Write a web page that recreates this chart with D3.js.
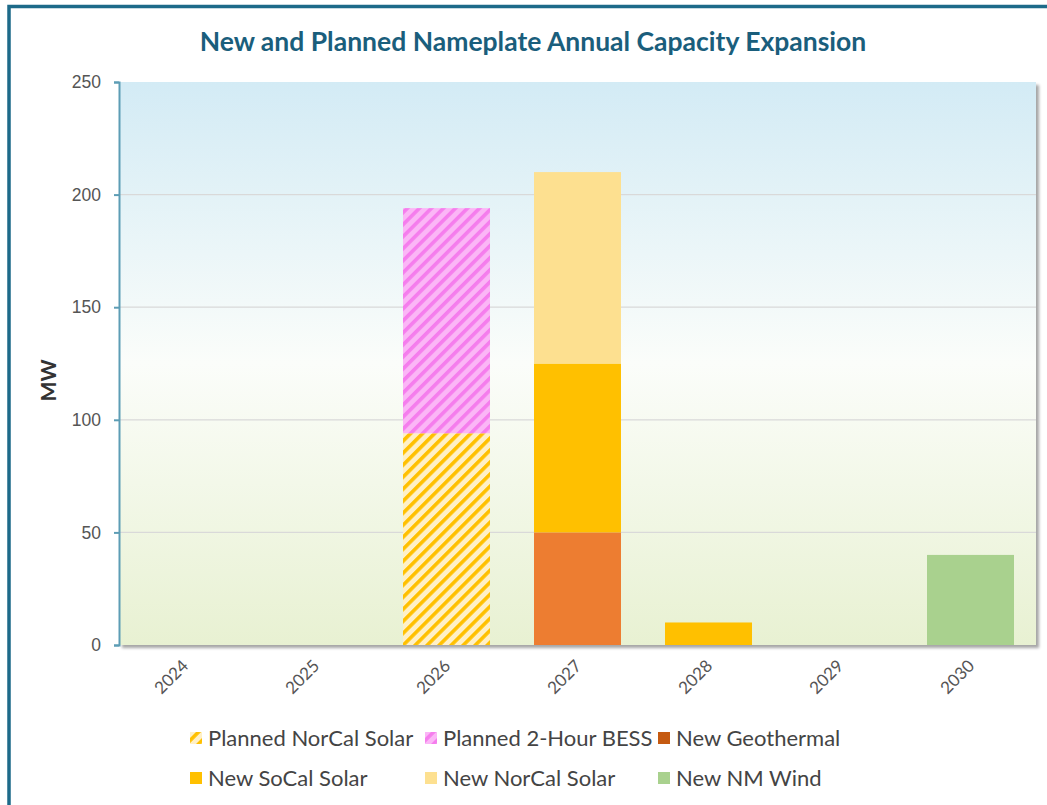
<!DOCTYPE html>
<html>
<head>
<meta charset="utf-8">
<script src="https://cdn.jsdelivr.net/npm/d3@7"></script>
<style>
  body { margin: 0; background: #fff; }
  svg { display: block; font-family: Lato, "Open Sans", sans-serif; }
</style>
</head>
<body>
<div id="chart"></div>
<script>
// data (MW)
const years = ['2024', '2025', '2026', '2027', '2028', '2029', '2030']
const seriesNames = ['Planned NorCal Solar', 'Planned 2-Hour BESS', 'New Geothermal', 'New SoCal Solar', 'New NorCal Solar', 'New NM Wind']
const plannedNorCal = [0, 0, 94, 0, 0, 0, 0]
const plannedBess = [0, 0, 100, 0, 0, 0, 0]
const newGeothermal = [0, 0, 0, 50, 0, 0, 0]
const newSoCal = [0, 0, 0, 75, 10, 0, 0]
const newNorCal = [0, 0, 0, 85, 0, 0, 0]
const newNmWind = [0, 0, 0, 0, 0, 0, 40]
const yTicks = [0, 50, 100, 150, 200, 250]

const width = 1047, height = 805
const margin = { top: 82, right: 11, bottom: 160, left: 119 }

const svg = d3.select('#chart').append('svg')
  .attr('width', width)
  .attr('height', height)

const defs = svg.append('defs')

const grad = defs.append('linearGradient')
  .attr('id', 'bg').attr('x1', 0).attr('x2', 0).attr('y1', 0).attr('y2', 1)
grad.append('stop').attr('offset', '0%').attr('stop-color', '#d3ebf5')
grad.append('stop').attr('offset', '50%').attr('stop-color', '#fbfdfa')
grad.append('stop').attr('offset', '100%').attr('stop-color', '#e8f1d2')

function stripes(id, bg, fg) {
  const p = defs.append('pattern')
    .attr('id', id)
    .attr('patternUnits', 'userSpaceOnUse')
    .attr('width', 8.5).attr('height', 8.5)
    .attr('patternTransform', 'rotate(45)')
  p.append('rect').attr('width', 8.5).attr('height', 8.5).attr('fill', bg)
  p.append('rect').attr('width', 3.6).attr('height', 8.5).attr('fill', fg)
}
stripes('hatchSolar', '#fff0c6', '#ffc000')
stripes('hatchBess', '#fbb6f6', '#f57ded')

const fills = ['url(#hatchSolar)', 'url(#hatchBess)', '#ed7d31', '#ffc000', '#fde090', '#a9d18e']
const legendFills = ['url(#hatchSolar)', 'url(#hatchBess)', '#c55a11', '#ffc000', '#fde090', '#a9d18e']

const shadow = defs.append('filter').attr('id', 'shadow')
  .attr('x', '-2%').attr('y', '-2%').attr('width', '106%').attr('height', '106%')
shadow.append('feDropShadow')
  .attr('dx', 3).attr('dy', 3).attr('stdDeviation', 1.5)
  .attr('flood-color', '#000').attr('flood-opacity', 0.35)

// outer frame
svg.append('rect')
  .attr('x', 9).attr('y', 6.5)
  .attr('width', width + 20).attr('height', height + 20)
  .attr('fill', 'none')
  .attr('stroke', '#1d6a89')
  .attr('stroke-width', 3.5)

const x = d3.scaleBand()
  .domain(years)
  .range([margin.left, width - margin.right])
  .paddingInner(0.336)
  .paddingOuter(0.168)

const y = d3.scaleLinear()
  .domain([0, 250])
  .range([height - margin.bottom, margin.top])

const plotW = width - margin.right - margin.left
const plotH = y(0) - y(250)

svg.append('rect')
  .attr('x', margin.left).attr('y', margin.top)
  .attr('width', plotW).attr('height', plotH)
  .attr('fill', 'url(#bg)')
  .attr('filter', 'url(#shadow)')

svg.append('g')
  .selectAll('line')
  .data(yTicks.filter(d => d > 0 && d < 250))
  .join('line')
  .attr('x1', margin.left).attr('x2', margin.left + plotW)
  .attr('y1', d => y(d)).attr('y2', d => y(d))
  .attr('stroke', '#d9d9d9').attr('stroke-width', 1.2)

const table = years.map((yr, i) => ({
  year: yr,
  'Planned NorCal Solar': plannedNorCal[i],
  'Planned 2-Hour BESS': plannedBess[i],
  'New Geothermal': newGeothermal[i],
  'New SoCal Solar': newSoCal[i],
  'New NorCal Solar': newNorCal[i],
  'New NM Wind': newNmWind[i]
}))

const stack = d3.stack().keys(seriesNames)(table)

svg.append('g')
  .selectAll('g')
  .data(stack)
  .join('g')
  .attr('fill', (d, i) => fills[i])
  .selectAll('rect')
  .data(d => d.filter(s => s[1] > s[0]))
  .join('rect')
  .attr('x', d => x(d.data.year))
  .attr('width', x.bandwidth())
  .attr('y', d => y(d[1]))
  .attr('height', d => y(d[0]) - y(d[1]))

// y axis
const yAxis = svg.append('g')
  .attr('transform', `translate(${margin.left},0)`)
  .call(d3.axisLeft(y).tickValues(yTicks).tickSize(5).tickPadding(13))
yAxis.select('.domain').attr('stroke', '#5d9db5').attr('stroke-width', 2)
yAxis.selectAll('.tick line').attr('stroke', '#5d9db5').attr('stroke-width', 2)
yAxis.selectAll('.tick text')
  .attr('fill', '#555')
  .style('font-size', '17.5px')

// x labels
svg.append('g')
  .selectAll('text')
  .data(years)
  .join('text')
  .attr('transform', d => `translate(${x(d) + x.bandwidth() / 2 + 5},${y(0) + 22}) rotate(-45)`)
  .attr('text-anchor', 'end')
  .attr('fill', '#555')
  .style('font-size', '17px')
  .text(d => d)

svg.append('text')
  .attr('transform', `translate(56,${(y(0) + y(250)) / 2 + 17}) rotate(-90)`)
  .attr('text-anchor', 'middle')
  .attr('fill', '#333')
  .style('font-size', '21px')
  .style('font-weight', 'bold')
  .text('MW')

svg.append('text')
  .attr('x', 533).attr('y', 51)
  .attr('text-anchor', 'middle')
  .attr('fill', '#1a5e7c')
  .style('font-size', '26.5px')
  .style('font-weight', 'bold')
  .text('New and Planned Nameplate Annual Capacity Expansion')

// legend
const legendCols = [190, 425, 658]
const legendRows = [738, 778]
const legend = svg.append('g')
  .selectAll('g')
  .data(seriesNames)
  .join('g')
  .attr('transform', (d, i) => `translate(${legendCols[i % 3]},${legendRows[Math.floor(i / 3)]})`)

legend.append('rect')
  .attr('x', 0).attr('y', -6)
  .attr('width', 12).attr('height', 12)
  .attr('fill', (d, i) => legendFills[i])

legend.append('text')
  .attr('x', 18).attr('y', 8)
  .attr('fill', '#444')
  .style('font-size', '22px')
  .text(d => d)
</script>
</body>
</html>
